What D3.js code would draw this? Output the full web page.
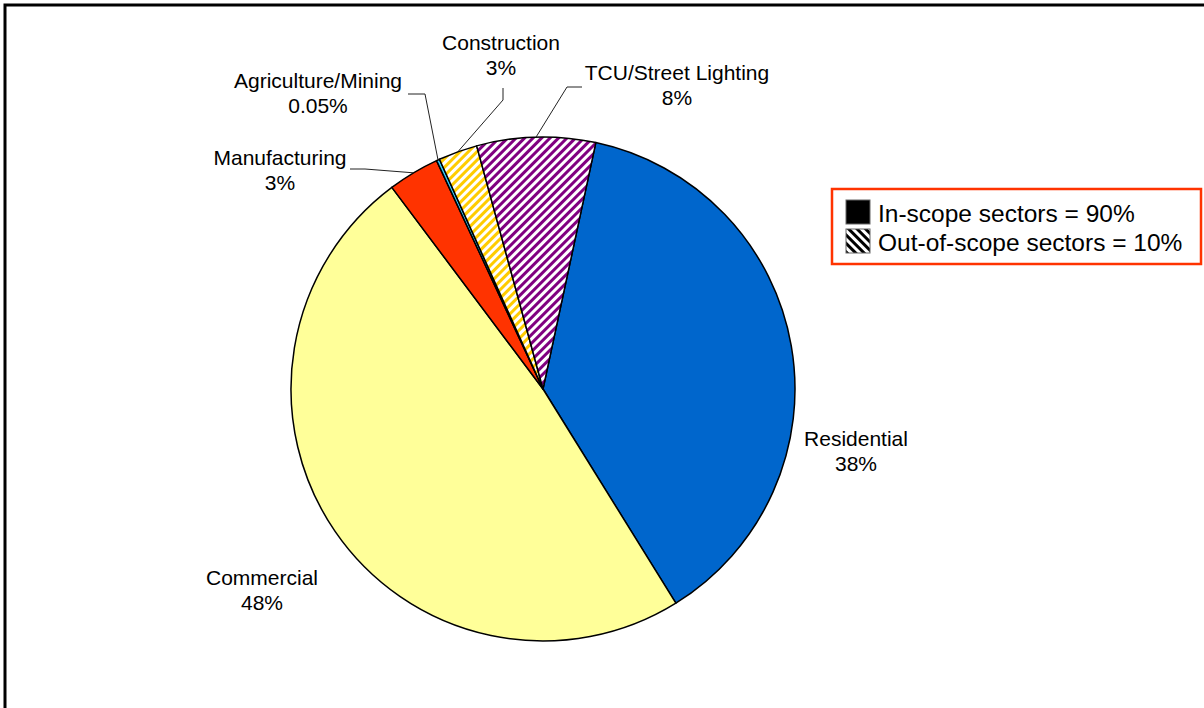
<!DOCTYPE html>
<html>
<head>
<meta charset="utf-8">
<script src="https://cdn.jsdelivr.net/npm/d3@7"></script>
<style>
  body { margin: 0; background: #fff; }
  svg text { font-family: "Liberation Sans", Arial, sans-serif; fill: #000; }
</style>
</head>
<body>
<svg id="chart" width="1204" height="708"></svg>
<script>
// sectors, clockwise from Residential
var sectors = ["Residential", "Commercial", "Manufacturing", "Agriculture/Mining", "Construction", "TCU/Street Lighting"];
var shares = [37.8, 48.6, 3.3, 0.2, 2.5, 7.6];
var shareLabels = ["38%", "48%", "3%", "0.05%", "3%", "8%"];
var inScope = [true, true, true, true, false, false];
var legendItems = ["In-scope sectors = 90%", "Out-of-scope sectors = 10%"];

var width = 1204, height = 708,
    cx = 543, cy = 389, radius = 252,
    startDeg = 12.1;

var colors = {
  "Residential": "#0066CC",
  "Commercial": "#FFFF99",
  "Manufacturing": "#FF3300",
  "Agriculture/Mining": "#33CCFF",
  "Construction": "url(#hatchYellow)",
  "TCU/Street Lighting": "url(#hatchPurple)"
};

// label text anchor point + leader elbow/end (layout only)
var labelLayout = {
  "Residential": {x: 856, y: 446},
  "Commercial": {x: 262, y: 585},
  "Manufacturing": {x: 280, y: 165, elbow: [365, 169], end: [350, 169]},
  "Agriculture/Mining": {x: 318, y: 88, elbow: [425, 94], end: [408, 94]},
  "Construction": {x: 501, y: 50, elbow: [503, 100], end: [503, 88]},
  "TCU/Street Lighting": {x: 677, y: 80, elbow: [567, 87], end: [582, 87]}
};

var svg = d3.select("#chart");
var defs = svg.append("defs");

function hatch(id, color, angle, bg) {
  var p = defs.append("pattern")
    .attr("id", id)
    .attr("patternUnits", "userSpaceOnUse")
    .attr("width", 6).attr("height", 6)
    .attr("patternTransform", "rotate(" + angle + ")");
  p.append("rect").attr("width", 6).attr("height", 6).attr("fill", bg);
  p.append("rect").attr("width", 3).attr("height", 6).attr("fill", color);
}
hatch("hatchYellow", "#FFCC00", 45, "#fff");
hatch("hatchPurple", "#800080", 45, "#fff");
hatch("hatchLegend", "#000", -45, "#fff");

// outer frame
svg.append("rect")
  .attr("x", 5).attr("y", 5)
  .attr("width", width + 20).attr("height", height + 20)
  .attr("fill", "none").attr("stroke", "#000").attr("stroke-width", 3);

var data = sectors.map(function(s, i) {
  return {name: s, value: shares[i], label: shareLabels[i], inScope: inScope[i]};
});

var start = startDeg * Math.PI / 180;
var pie = d3.pie().sort(null).value(function(d) { return d.value; })
  .startAngle(start).endAngle(start + 2 * Math.PI);
var arc = d3.arc().innerRadius(0).outerRadius(radius);
var arcs = pie(data);

var g = svg.append("g").attr("transform", "translate(" + cx + "," + cy + ")");

g.selectAll("path.slice")
  .data(arcs)
  .enter().append("path")
  .attr("class", "slice")
  .attr("d", arc)
  .attr("fill", function(d) { return colors[d.data.name]; })
  .attr("stroke", "#000")
  .attr("stroke-width", 1.5)
  .attr("stroke-linejoin", "round");

// leader lines
arcs.forEach(function(d) {
  var L = labelLayout[d.data.name];
  if (!L.elbow) return;
  var mid = (d.startAngle + d.endAngle) / 2;
  var p0 = [cx + radius * Math.sin(mid), cy - radius * Math.cos(mid)];
  svg.append("polyline")
    .attr("points", [p0, L.elbow, L.end].map(function(p) { return p.join(","); }).join(" "))
    .attr("fill", "none")
    .attr("stroke", "#222")
    .attr("stroke-width", 1);
});

// labels
arcs.forEach(function(d) {
  var L = labelLayout[d.data.name];
  var t = svg.append("text")
    .attr("text-anchor", "middle")
    .attr("font-size", "21px");
  t.append("tspan").attr("x", L.x).attr("y", L.y).text(d.data.name);
  t.append("tspan").attr("x", L.x).attr("dy", 25).text(d.data.label);
});

// legend
var lg = svg.append("g").attr("transform", "translate(832,189)");
lg.append("rect")
  .attr("width", 369).attr("height", 75)
  .attr("fill", "#fff")
  .attr("stroke", "#FF3300").attr("stroke-width", 2.5);

legendItems.forEach(function(txt, i) {
  lg.append("rect")
    .attr("x", 14).attr("y", 11 + i * 29)
    .attr("width", 24).attr("height", 24)
    .attr("fill", i === 0 ? "#000" : "url(#hatchLegend)")
    .attr("stroke", "#666").attr("stroke-width", 1);
  lg.append("text")
    .attr("x", 46).attr("y", 33 + i * 29)
    .attr("font-size", "24.5px")
    .text(txt);
});
</script>
</body>
</html>
